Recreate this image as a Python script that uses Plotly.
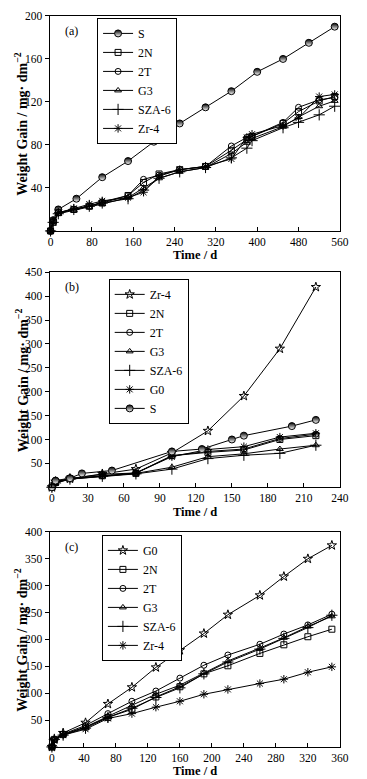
import plotly.graph_objects as go

# ---------------- Panel (a) data ----------------
a_S_x = [0, 5, 15, 50, 100, 150, 200, 250, 300, 350, 400, 450, 500, 550]
a_S_y = [0, 10, 20, 30, 50, 65, 83, 100, 115, 130, 148, 160, 175, 190]
a_x = [0, 5, 15, 45, 75, 100, 150, 180, 210, 250, 300, 350, 380, 390, 450, 480, 520, 550]
a_2N = [0, 8, 17, 20, 23, 26, 33, 45, 53, 57, 60, 75, 85, 88, 100, 111, 121, 125]
a_2T = [0, 9, 17, 20, 23, 27, 33, 48, 52, 57, 60, 79, 87, 88, 101, 115, 122, 124]
a_G3 = [0, 8, 16, 19, 22, 25, 31, 40, 49, 55, 59, 72, 82, 86, 97, 106, 116, 121]
a_SZA6 = [0, 8, 16, 20, 23, 26, 30, 38, 49, 55, 59, 68, 77, 84, 96, 101, 108, 116]
a_Zr4 = [0, 8, 17, 21, 25, 28, 31, 36, 51, 57, 60, 67, 87, 90, 98, 105, 125, 127]

# ---------------- Panel (b) data ----------------
b_x = [0, 3, 15, 42, 70, 100, 130, 160, 190, 220]
b_Zr4 = [0, 12, 18, 28, 38, 72, 118, 191, 290, 419]
b_2N = [0, 10, 18, 24, 29, 66, 73, 78, 100, 108]
b_2T = [0, 10, 18, 24, 30, 66, 75, 80, 102, 111]
b_G3 = [0, 9, 17, 23, 29, 42, 64, 70, 80, 88]
b_SZA6 = [0, 9, 17, 23, 28, 38, 60, 67, 71, 88]
b_G0 = [0, 11, 18, 27, 30, 64, 79, 85, 105, 113]
b_S_x = [0, 3, 15, 25, 50, 100, 125, 150, 160, 200, 220]
b_S_y = [0, 14, 19, 29, 35, 75, 80, 100, 108, 128, 141]

# ---------------- Panel (c) data ----------------
c_x = [0, 3, 14, 42, 70, 100, 130, 160, 190, 220, 260, 290, 320, 350]
c_G0 = [0, 14, 26, 45, 80, 111, 148, 180, 211, 246, 282, 317, 350, 375]
c_2N = [0, 14, 23, 37, 55, 70, 93, 112, 136, 151, 174, 190, 205, 219]
c_2T = [0, 14, 24, 40, 62, 85, 104, 128, 152, 171, 191, 210, 227, 247]
c_G3 = [0, 14, 23, 37, 57, 77, 98, 115, 138, 160, 184, 203, 224, 243]
c_SZA6 = [0, 14, 22, 35, 55, 72, 92, 110, 136, 158, 182, 202, 222, 245]
c_Zr4 = [0, 13, 22, 33, 53, 62, 74, 85, 98, 107, 118, 126, 139, 149]

x_ticks_a = [0, 80, 160, 240, 320, 400, 480, 560]
y_ticks_a = [40, 80, 120, 160, 200]
x_ticks_b = [0, 30, 60, 90, 120, 150, 180, 210, 240]
y_ticks_b = [50, 100, 150, 200, 250, 300, 350, 400, 450]
x_ticks_c = [0, 40, 80, 120, 160, 200, 240, 280, 320, 360]
y_ticks_c = [50, 100, 150, 200, 250, 300, 350, 400]

FONT = "Liberation Serif, Times New Roman, serif"
W, H = 367, 779

fig = go.Figure()

def mk(symbol, size=6):
    return dict(symbol=symbol, size=size, color="black",
                line=dict(color="black", width=1))

half = dict(symbol="circle", size=7, color="black",
            gradient=dict(type="vertical", color="white"),
            line=dict(color="black", width=1))

def add(x, y, name, marker, xa, ya, leg):
    fig.add_trace(go.Scatter(x=x, y=y, name=name, mode="lines+markers",
                             line=dict(color="black", width=1), marker=marker,
                             xaxis=xa, yaxis=ya, legend=leg, cliponaxis=False))

# panel a
add(a_S_x, a_S_y, "S", half, "x", "y", "legend")
add(a_x, a_2N, "2N", mk("square-open"), "x", "y", "legend")
add(a_x, a_2T, "2T", mk("circle-open"), "x", "y", "legend")
add(a_x, a_G3, "G3", mk("triangle-up-open"), "x", "y", "legend")
add(a_x, a_SZA6, "SZA-6", mk("cross-thin-open", 8), "x", "y", "legend")
add(a_x, a_Zr4, "Zr-4", mk("asterisk-open", 7), "x", "y", "legend")

# panel b
add(b_x, b_Zr4, "Zr-4", mk("star-open", 7), "x2", "y2", "legend2")
add(b_x, b_2N, "2N", mk("square-open"), "x2", "y2", "legend2")
add(b_x, b_2T, "2T", mk("circle-open"), "x2", "y2", "legend2")
add(b_x, b_G3, "G3", mk("triangle-up-open"), "x2", "y2", "legend2")
add(b_x, b_SZA6, "SZA-6", mk("cross-thin-open", 8), "x2", "y2", "legend2")
add(b_x, b_G0, "G0", mk("asterisk-open", 7), "x2", "y2", "legend2")
add(b_S_x, b_S_y, "S", half, "x2", "y2", "legend2")

# panel c
add(c_x, c_G0, "G0", mk("star-open", 7), "x3", "y3", "legend3")
add(c_x, c_2N, "2N", mk("square-open"), "x3", "y3", "legend3")
add(c_x, c_2T, "2T", mk("circle-open"), "x3", "y3", "legend3")
add(c_x, c_G3, "G3", mk("triangle-up-open"), "x3", "y3", "legend3")
add(c_x, c_SZA6, "SZA-6", mk("cross-thin-open", 8), "x3", "y3", "legend3")
add(c_x, c_Zr4, "Zr-4", mk("asterisk-open", 7), "x3", "y3", "legend3")

xdom = [49 / W, 348.3 / W]

def ydom(top, bottom):
    return [1 - bottom / H, 1 - top / H]

TICKFONT = dict(family=FONT, size=11.5, color="black")

def xaxis(rng, ticks, anchor):
    return dict(domain=xdom, range=rng, tickvals=ticks, ticks="inside", ticklen=4,
                tickcolor="black", showline=True, mirror=True, linecolor="black",
                linewidth=1, showgrid=False, zeroline=False, anchor=anchor,
                tickfont=TICKFONT)

def yaxis(rng, ticks, dom, anchor):
    return dict(domain=dom, range=rng, tickvals=ticks, ticks="outside", ticklen=4,
                tickcolor="black", showline=True, mirror=True, linecolor="black",
                linewidth=1, showgrid=False, zeroline=False, anchor=anchor,
                tickfont=TICKFONT)

def legend(x, y):
    return dict(x=x / W, y=1 - y / H, xanchor="left", yanchor="top",
                bgcolor="white", bordercolor="black", borderwidth=1,
                font=dict(family=FONT, size=12, color="black"),
                tracegroupgap=0, itemwidth=30)

yt = "<b>Weight Gain / mg· dm<sup>−2</sup></b>"
ann = []
for top, bottom, lab in [(10, 226.7, "(a)"), (268.3, 485, "(b)"), (530, 746.7, "(c)")]:
    ann.append(dict(text=yt, x=20 / W, y=1 - (top + bottom) / 2 / H, xref="paper", yref="paper",
                    textangle=-90, showarrow=False, xanchor="center", yanchor="middle",
                    borderpad=0, font=dict(family=FONT, size=14, color="black")))
    ann.append(dict(text="<b>Time / d</b>", x=(49 + 348.3) / 2 / W, y=1 - (bottom + 24.5) / H,
                    xref="paper", yref="paper", showarrow=False, xanchor="center",
                    yanchor="middle", borderpad=0,
                    font=dict(family=FONT, size=12.5, color="black")))
    ann.append(dict(text=lab, x=63 / W, y=1 - (top + 15) / H, xref="paper", yref="paper",
                    showarrow=False, xanchor="left", yanchor="middle",
                    font=dict(family=FONT, size=12, color="black")))

fig.update_layout(
    width=W, height=H, margin=dict(l=0, r=0, t=0, b=0),
    paper_bgcolor="white", plot_bgcolor="white",
    xaxis=xaxis([-2, 560], x_ticks_a, "y"),
    yaxis=yaxis([0, 200], y_ticks_a, ydom(10, 226.7), "x"),
    xaxis2=xaxis([-2, 240], x_ticks_b, "y2"),
    yaxis2=yaxis([0, 450], y_ticks_b, ydom(268.3, 485), "x2"),
    xaxis3=xaxis([-3, 360], x_ticks_c, "y3"),
    yaxis3=yaxis([0, 400], y_ticks_c, ydom(530, 746.7), "x3"),
    legend=legend(98, 12),
    legend2=legend(110, 275),
    legend3=legend(103, 533),
    annotations=ann,
    showlegend=True,
)

fig.write_html("out.html", config={"displayModeBar": False},
               post_script="document.body.style.margin='0';document.body.style.padding='0';document.body.style.overflow='hidden';")
